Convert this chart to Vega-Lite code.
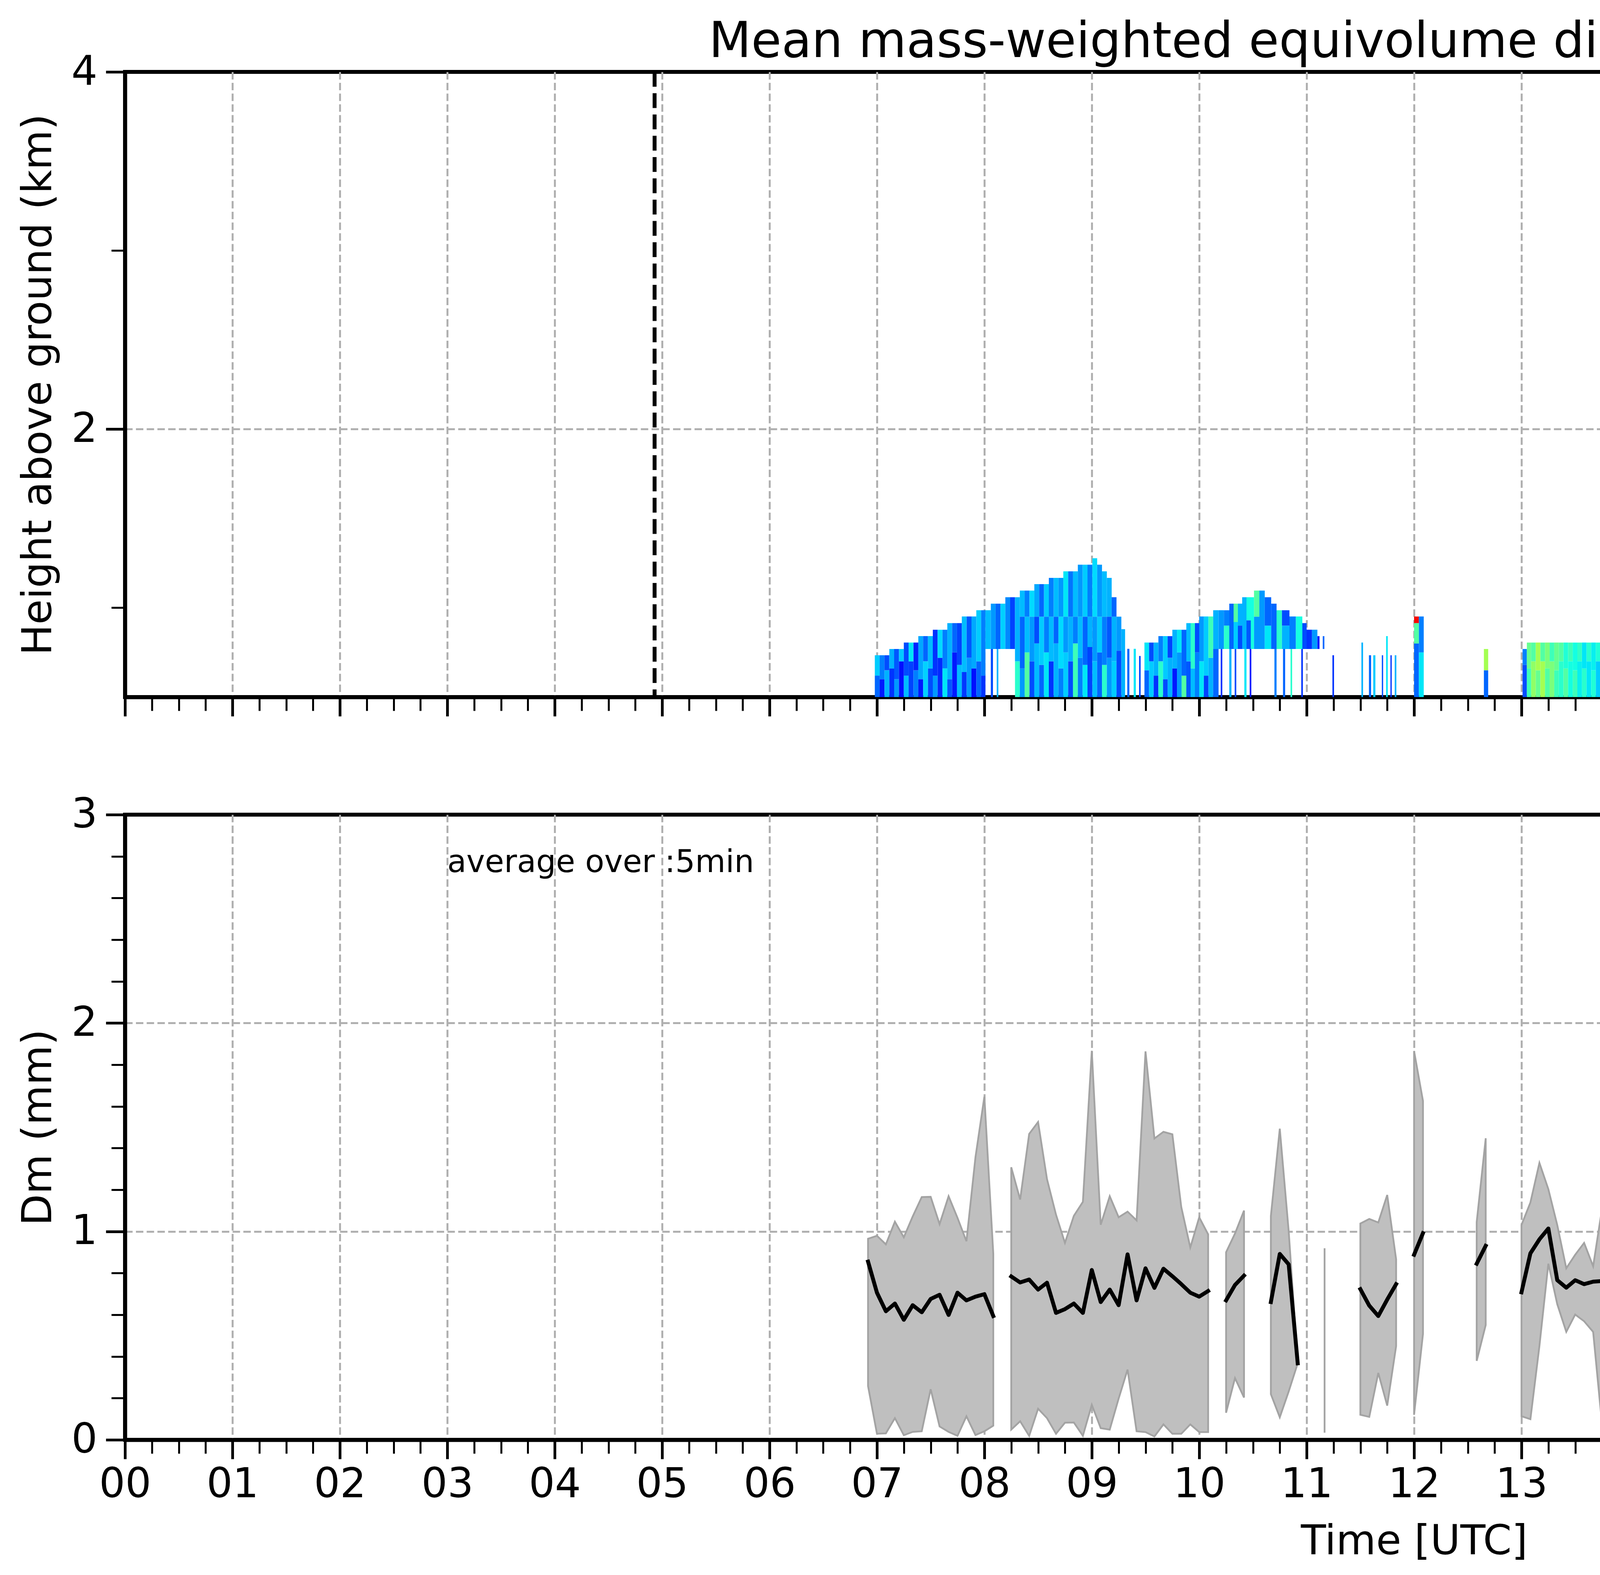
{
"$schema": "https://vega.github.io/schema/vega-lite/v6.json",
"background": "white",
"padding": {"left": 41, "top": 40, "right": 10, "bottom": 10},
"config": {
  "font": "DejaVu Sans",
  "view": {"stroke": "black", "strokeWidth": 10},
  "axis": {"labelFont": "DejaVu Sans", "titleFont": "DejaVu Sans", "labelColor": "black", "titleColor": "black", "titleFontWeight": "normal", "tickColor": "black", "domainColor": "black", "domainWidth": 10, "labelFontSize": 105, "titleFontSize": 105, "zindex": 1, "labelOverlap": false, "labelFlush": false},
  "text": {"font": "DejaVu Sans"}
},
"datasets": {
"heat": [
{"t0":6.98,"t1":7.025,"h0":0.5,"h1":0.62,"dm":0.45},
{"t0":6.98,"t1":7.025,"h0":0.62,"h1":0.734,"dm":0.65},
{"t0":7.025,"t1":7.07,"h0":0.5,"h1":0.6,"dm":0.3},
{"t0":7.025,"t1":7.07,"h0":0.6,"h1":0.734,"dm":0.5},
{"t0":7.07,"t1":7.115,"h0":0.5,"h1":0.65,"dm":0.6},
{"t0":7.07,"t1":7.115,"h0":0.65,"h1":0.734,"dm":0.4},
{"t0":7.115,"t1":7.16,"h0":0.5,"h1":0.66,"dm":0.35},
{"t0":7.115,"t1":7.16,"h0":0.66,"h1":0.769,"dm":0.6},
{"t0":7.16,"t1":7.205,"h0":0.5,"h1":0.6,"dm":0.55},
{"t0":7.16,"t1":7.205,"h0":0.6,"h1":0.769,"dm":0.42},
{"t0":7.205,"t1":7.25,"h0":0.5,"h1":0.7,"dm":0.28},
{"t0":7.205,"t1":7.25,"h0":0.7,"h1":0.769,"dm":0.65},
{"t0":7.25,"t1":7.295,"h0":0.5,"h1":0.62,"dm":0.62},
{"t0":7.25,"t1":7.295,"h0":0.62,"h1":0.805,"dm":0.4},
{"t0":7.295,"t1":7.34,"h0":0.5,"h1":0.7,"dm":0.38},
{"t0":7.295,"t1":7.34,"h0":0.7,"h1":0.805,"dm":0.7},
{"t0":7.34,"t1":7.385,"h0":0.5,"h1":0.65,"dm":0.5},
{"t0":7.34,"t1":7.385,"h0":0.65,"h1":0.805,"dm":0.32},
{"t0":7.385,"t1":7.43,"h0":0.5,"h1":0.6,"dm":0.3},
{"t0":7.385,"t1":7.43,"h0":0.6,"h1":0.841,"dm":0.58},
{"t0":7.43,"t1":7.475,"h0":0.5,"h1":0.7,"dm":0.66},
{"t0":7.43,"t1":7.475,"h0":0.7,"h1":0.841,"dm":0.45},
{"t0":7.475,"t1":7.52,"h0":0.5,"h1":0.66,"dm":0.4},
{"t0":7.475,"t1":7.52,"h0":0.66,"h1":0.841,"dm":0.62},
{"t0":7.52,"t1":7.565,"h0":0.5,"h1":0.62,"dm":0.55},
{"t0":7.52,"t1":7.565,"h0":0.62,"h1":0.877,"dm":0.35},
{"t0":7.565,"t1":7.61,"h0":0.5,"h1":0.72,"dm":0.33},
{"t0":7.565,"t1":7.61,"h0":0.72,"h1":0.877,"dm":0.68},
{"t0":7.61,"t1":7.655,"h0":0.5,"h1":0.66,"dm":0.7},
{"t0":7.61,"t1":7.655,"h0":0.66,"h1":0.877,"dm":0.5},
{"t0":7.655,"t1":7.7,"h0":0.5,"h1":0.6,"dm":0.42},
{"t0":7.655,"t1":7.7,"h0":0.6,"h1":0.914,"dm":0.6},
{"t0":7.7,"t1":7.745,"h0":0.5,"h1":0.75,"dm":0.3},
{"t0":7.7,"t1":7.745,"h0":0.75,"h1":0.914,"dm":0.45},
{"t0":7.745,"t1":7.79,"h0":0.5,"h1":0.68,"dm":0.62},
{"t0":7.745,"t1":7.79,"h0":0.68,"h1":0.914,"dm":0.38},
{"t0":7.79,"t1":7.835,"h0":0.5,"h1":0.64,"dm":0.36},
{"t0":7.79,"t1":7.835,"h0":0.64,"h1":0.951,"dm":0.62},
{"t0":7.835,"t1":7.88,"h0":0.5,"h1":0.72,"dm":0.55},
{"t0":7.835,"t1":7.88,"h0":0.72,"h1":0.951,"dm":0.42},
{"t0":7.88,"t1":7.925,"h0":0.5,"h1":0.66,"dm":0.28},
{"t0":7.88,"t1":7.925,"h0":0.66,"h1":0.951,"dm":0.58},
{"t0":7.925,"t1":7.97,"h0":0.5,"h1":0.7,"dm":0.45},
{"t0":7.925,"t1":7.97,"h0":0.7,"h1":0.986,"dm":0.65},
{"t0":7.97,"t1":8.01,"h0":0.5,"h1":0.62,"dm":0.35},
{"t0":7.97,"t1":8.01,"h0":0.62,"h1":0.986,"dm":0.5},
{"t0":8.01,"t1":8.06,"h0":0.769,"h1":0.986,"dm":0.62},
{"t0":8.06,"t1":8.08,"h0":0.5,"h1":0.769,"dm":0.4},
{"t0":8.06,"t1":8.105,"h0":0.769,"h1":1.023,"dm":0.55},
{"t0":8.115,"t1":8.13,"h0":0.5,"h1":0.769,"dm":0.6},
{"t0":8.105,"t1":8.15,"h0":0.769,"h1":1.023,"dm":0.45},
{"t0":8.15,"t1":8.195,"h0":0.769,"h1":1.023,"dm":0.66},
{"t0":8.195,"t1":8.24,"h0":0.769,"h1":1.059,"dm":0.52},
{"t0":8.24,"t1":8.285,"h0":0.769,"h1":1.059,"dm":0.38},
{"t0":8.285,"t1":8.33,"h0":0.5,"h1":0.7,"dm":0.8},
{"t0":8.285,"t1":8.33,"h0":0.7,"h1":1.059,"dm":0.6},
{"t0":8.33,"t1":8.375,"h0":0.5,"h1":0.66,"dm":0.55},
{"t0":8.33,"t1":8.375,"h0":0.66,"h1":0.95,"dm":0.45},
{"t0":8.33,"t1":8.375,"h0":0.95,"h1":1.096,"dm":0.62},
{"t0":8.375,"t1":8.42,"h0":0.5,"h1":0.75,"dm":0.9},
{"t0":8.375,"t1":8.42,"h0":0.75,"h1":0.95,"dm":0.62},
{"t0":8.375,"t1":8.42,"h0":0.95,"h1":1.096,"dm":0.5},
{"t0":8.42,"t1":8.465,"h0":0.5,"h1":0.7,"dm":0.4},
{"t0":8.42,"t1":8.465,"h0":0.7,"h1":0.95,"dm":0.55},
{"t0":8.42,"t1":8.465,"h0":0.95,"h1":1.096,"dm":0.68},
{"t0":8.465,"t1":8.51,"h0":0.5,"h1":0.8,"dm":0.62},
{"t0":8.465,"t1":8.51,"h0":0.8,"h1":0.95,"dm":0.4},
{"t0":8.465,"t1":8.51,"h0":0.95,"h1":1.132,"dm":0.58},
{"t0":8.51,"t1":8.555,"h0":0.5,"h1":0.68,"dm":0.45},
{"t0":8.51,"t1":8.555,"h0":0.68,"h1":0.95,"dm":0.65},
{"t0":8.51,"t1":8.555,"h0":0.95,"h1":1.132,"dm":0.45},
{"t0":8.555,"t1":8.6,"h0":0.5,"h1":0.75,"dm":0.7},
{"t0":8.555,"t1":8.6,"h0":0.75,"h1":0.95,"dm":0.5},
{"t0":8.555,"t1":8.6,"h0":0.95,"h1":1.132,"dm":0.65},
{"t0":8.6,"t1":8.645,"h0":0.5,"h1":0.7,"dm":0.35},
{"t0":8.6,"t1":8.645,"h0":0.7,"h1":0.95,"dm":0.62},
{"t0":8.6,"t1":8.645,"h0":0.95,"h1":1.167,"dm":0.5},
{"t0":8.645,"t1":8.69,"h0":0.5,"h1":0.8,"dm":0.6},
{"t0":8.645,"t1":8.69,"h0":0.8,"h1":0.95,"dm":0.45},
{"t0":8.645,"t1":8.69,"h0":0.95,"h1":1.167,"dm":0.62},
{"t0":8.69,"t1":8.735,"h0":0.5,"h1":0.66,"dm":0.5},
{"t0":8.69,"t1":8.735,"h0":0.66,"h1":0.95,"dm":0.68},
{"t0":8.69,"t1":8.735,"h0":0.95,"h1":1.167,"dm":0.55},
{"t0":8.735,"t1":8.78,"h0":0.5,"h1":0.75,"dm":0.65},
{"t0":8.735,"t1":8.78,"h0":0.75,"h1":0.95,"dm":0.55},
{"t0":8.735,"t1":8.78,"h0":0.95,"h1":1.204,"dm":0.7},
{"t0":8.78,"t1":8.825,"h0":0.5,"h1":0.7,"dm":0.4},
{"t0":8.78,"t1":8.825,"h0":0.7,"h1":0.95,"dm":0.6},
{"t0":8.78,"t1":8.825,"h0":0.95,"h1":1.204,"dm":0.48},
{"t0":8.825,"t1":8.87,"h0":0.5,"h1":0.8,"dm":0.85},
{"t0":8.825,"t1":8.87,"h0":0.8,"h1":0.95,"dm":0.5},
{"t0":8.825,"t1":8.87,"h0":0.95,"h1":1.204,"dm":0.62},
{"t0":8.87,"t1":8.915,"h0":0.5,"h1":0.72,"dm":0.5},
{"t0":8.87,"t1":8.915,"h0":0.72,"h1":0.95,"dm":0.62},
{"t0":8.87,"t1":8.915,"h0":0.95,"h1":1.241,"dm":0.55},
{"t0":8.915,"t1":8.96,"h0":0.5,"h1":0.68,"dm":0.7},
{"t0":8.915,"t1":8.96,"h0":0.68,"h1":0.95,"dm":0.45},
{"t0":8.915,"t1":8.96,"h0":0.95,"h1":1.241,"dm":0.65},
{"t0":8.96,"t1":9.005,"h0":0.5,"h1":0.78,"dm":0.38},
{"t0":8.96,"t1":9.005,"h0":0.78,"h1":0.95,"dm":0.6},
{"t0":8.96,"t1":9.005,"h0":0.95,"h1":1.241,"dm":0.5},
{"t0":9.005,"t1":9.05,"h0":0.5,"h1":0.7,"dm":0.62},
{"t0":9.005,"t1":9.05,"h0":0.7,"h1":0.95,"dm":0.55},
{"t0":9.005,"t1":9.05,"h0":0.95,"h1":1.277,"dm":0.68},
{"t0":9.05,"t1":9.095,"h0":0.5,"h1":0.75,"dm":0.45},
{"t0":9.05,"t1":9.095,"h0":0.75,"h1":0.95,"dm":0.65},
{"t0":9.05,"t1":9.095,"h0":0.95,"h1":1.241,"dm":0.55},
{"t0":9.095,"t1":9.14,"h0":0.5,"h1":0.68,"dm":0.8},
{"t0":9.095,"t1":9.14,"h0":0.68,"h1":0.95,"dm":0.5},
{"t0":9.095,"t1":9.14,"h0":0.95,"h1":1.204,"dm":0.62},
{"t0":9.14,"t1":9.185,"h0":0.5,"h1":0.72,"dm":0.55},
{"t0":9.14,"t1":9.185,"h0":0.72,"h1":0.95,"dm":0.42},
{"t0":9.14,"t1":9.185,"h0":0.95,"h1":1.167,"dm":0.6},
{"t0":9.185,"t1":9.23,"h0":0.5,"h1":0.7,"dm":0.65},
{"t0":9.185,"t1":9.23,"h0":0.7,"h1":0.95,"dm":0.6},
{"t0":9.185,"t1":9.23,"h0":0.95,"h1":1.059,"dm":0.45},
{"t0":9.23,"t1":9.275,"h0":0.5,"h1":0.76,"dm":0.4},
{"t0":9.23,"t1":9.275,"h0":0.76,"h1":0.95,"dm":0.55},
{"t0":9.275,"t1":9.31,"h0":0.5,"h1":0.88,"dm":0.6},
{"t0":9.33,"t1":9.35,"h0":0.5,"h1":0.77,"dm":0.45},
{"t0":9.39,"t1":9.41,"h0":0.5,"h1":0.77,"dm":0.7},
{"t0":9.44,"t1":9.455,"h0":0.5,"h1":0.73,"dm":0.4},
{"t0":9.49,"t1":9.533,"h0":0.5,"h1":0.65,"dm":0.45},
{"t0":9.49,"t1":9.533,"h0":0.65,"h1":0.805,"dm":0.7},
{"t0":9.533,"t1":9.576,"h0":0.5,"h1":0.7,"dm":0.65},
{"t0":9.533,"t1":9.576,"h0":0.7,"h1":0.805,"dm":0.4},
{"t0":9.576,"t1":9.62,"h0":0.5,"h1":0.62,"dm":0.35},
{"t0":9.576,"t1":9.62,"h0":0.62,"h1":0.805,"dm":0.6},
{"t0":9.62,"t1":9.663,"h0":0.5,"h1":0.7,"dm":0.8},
{"t0":9.62,"t1":9.663,"h0":0.7,"h1":0.841,"dm":0.5},
{"t0":9.663,"t1":9.706,"h0":0.5,"h1":0.6,"dm":0.4},
{"t0":9.663,"t1":9.706,"h0":0.6,"h1":0.841,"dm":0.65},
{"t0":9.706,"t1":9.75,"h0":0.5,"h1":0.72,"dm":0.6},
{"t0":9.706,"t1":9.75,"h0":0.72,"h1":0.841,"dm":0.38},
{"t0":9.75,"t1":9.793,"h0":0.5,"h1":0.66,"dm":0.3},
{"t0":9.75,"t1":9.793,"h0":0.66,"h1":0.877,"dm":0.6},
{"t0":9.793,"t1":9.836,"h0":0.5,"h1":0.75,"dm":0.55},
{"t0":9.793,"t1":9.836,"h0":0.75,"h1":0.877,"dm":0.7},
{"t0":9.836,"t1":9.88,"h0":0.5,"h1":0.62,"dm":0.9},
{"t0":9.836,"t1":9.88,"h0":0.62,"h1":0.877,"dm":0.45},
{"t0":9.88,"t1":9.92,"h0":0.5,"h1":0.7,"dm":0.42},
{"t0":9.88,"t1":9.92,"h0":0.7,"h1":0.914,"dm":0.62},
{"t0":9.92,"t1":9.96,"h0":0.5,"h1":0.66,"dm":0.62},
{"t0":9.92,"t1":9.96,"h0":0.66,"h1":0.914,"dm":0.8},
{"t0":9.96,"t1":10.0,"h0":0.5,"h1":0.75,"dm":0.5},
{"t0":9.96,"t1":10.0,"h0":0.75,"h1":0.914,"dm":0.4},
{"t0":10.0,"t1":10.043,"h0":0.5,"h1":0.7,"dm":0.7},
{"t0":10.0,"t1":10.043,"h0":0.7,"h1":0.951,"dm":0.55},
{"t0":10.043,"t1":10.086,"h0":0.5,"h1":0.62,"dm":0.38},
{"t0":10.043,"t1":10.086,"h0":0.62,"h1":0.951,"dm":0.65},
{"t0":10.086,"t1":10.13,"h0":0.5,"h1":0.72,"dm":0.6},
{"t0":10.086,"t1":10.13,"h0":0.72,"h1":0.951,"dm":0.85},
{"t0":10.13,"t1":10.18,"h0":0.5,"h1":0.769,"dm":0.45},
{"t0":10.13,"t1":10.18,"h0":0.769,"h1":0.986,"dm":0.6},
{"t0":10.18,"t1":10.23,"h0":0.769,"h1":0.986,"dm":0.55},
{"t0":10.23,"t1":10.28,"h0":0.769,"h1":0.9,"dm":0.8},
{"t0":10.23,"t1":10.28,"h0":0.9,"h1":0.986,"dm":0.5},
{"t0":10.28,"t1":10.32,"h0":0.769,"h1":1.023,"dm":0.45},
{"t0":10.32,"t1":10.36,"h0":0.769,"h1":0.92,"dm":0.65},
{"t0":10.32,"t1":10.36,"h0":0.92,"h1":1.023,"dm":0.9},
{"t0":10.36,"t1":10.4,"h0":0.769,"h1":0.9,"dm":0.4},
{"t0":10.36,"t1":10.4,"h0":0.9,"h1":1.023,"dm":0.6},
{"t0":10.4,"t1":10.44,"h0":0.769,"h1":1.059,"dm":0.6},
{"t0":10.44,"t1":10.48,"h0":0.769,"h1":0.93,"dm":0.42},
{"t0":10.44,"t1":10.48,"h0":0.93,"h1":1.059,"dm":0.75},
{"t0":10.48,"t1":10.51,"h0":0.769,"h1":1.059,"dm":0.75},
{"t0":10.51,"t1":10.56,"h0":0.769,"h1":0.95,"dm":0.55},
{"t0":10.51,"t1":10.56,"h0":0.95,"h1":1.096,"dm":0.9},
{"t0":10.56,"t1":10.61,"h0":0.769,"h1":1.096,"dm":0.55},
{"t0":10.61,"t1":10.67,"h0":0.769,"h1":0.9,"dm":0.7},
{"t0":10.61,"t1":10.67,"h0":0.9,"h1":1.059,"dm":0.45},
{"t0":10.67,"t1":10.72,"h0":0.769,"h1":1.023,"dm":0.45},
{"t0":10.72,"t1":10.77,"h0":0.769,"h1":0.986,"dm":0.8},
{"t0":10.77,"t1":10.84,"h0":0.769,"h1":0.9,"dm":0.6},
{"t0":10.77,"t1":10.84,"h0":0.9,"h1":0.986,"dm":0.4},
{"t0":10.84,"t1":10.9,"h0":0.769,"h1":0.951,"dm":0.5},
{"t0":10.9,"t1":10.96,"h0":0.769,"h1":0.951,"dm":0.75},
{"t0":10.96,"t1":11.0,"h0":0.769,"h1":0.914,"dm":0.4},
{"t0":11.0,"t1":11.05,"h0":0.769,"h1":0.877,"dm":0.35},
{"t0":11.05,"t1":11.1,"h0":0.769,"h1":0.877,"dm":0.55},
{"t0":11.1,"t1":11.12,"h0":0.769,"h1":0.841,"dm":0.3},
{"t0":11.15,"t1":11.165,"h0":0.769,"h1":0.841,"dm":0.45},
{"t0":10.2,"t1":10.215,"h0":0.5,"h1":0.769,"dm":0.35},
{"t0":10.28,"t1":10.3,"h0":0.5,"h1":0.769,"dm":0.6},
{"t0":10.33,"t1":10.345,"h0":0.5,"h1":0.769,"dm":0.4},
{"t0":10.42,"t1":10.44,"h0":0.5,"h1":0.769,"dm":0.7},
{"t0":10.47,"t1":10.485,"h0":0.5,"h1":0.769,"dm":0.3},
{"t0":10.7,"t1":10.72,"h0":0.5,"h1":0.769,"dm":0.5},
{"t0":10.78,"t1":10.8,"h0":0.5,"h1":0.769,"dm":0.45},
{"t0":10.85,"t1":10.865,"h0":0.5,"h1":0.769,"dm":0.8},
{"t0":10.95,"t1":10.965,"h0":0.5,"h1":0.769,"dm":0.35},
{"t0":11.24,"t1":11.255,"h0":0.5,"h1":0.734,"dm":0.35},
{"t0":11.51,"t1":11.525,"h0":0.5,"h1":0.805,"dm":0.6},
{"t0":11.58,"t1":11.6,"h0":0.5,"h1":0.734,"dm":0.45},
{"t0":11.62,"t1":11.64,"h0":0.5,"h1":0.734,"dm":0.65},
{"t0":11.7,"t1":11.712,"h0":0.5,"h1":0.734,"dm":0.4},
{"t0":11.74,"t1":11.755,"h0":0.5,"h1":0.841,"dm":0.7},
{"t0":11.78,"t1":11.792,"h0":0.5,"h1":0.734,"dm":0.35},
{"t0":11.82,"t1":11.835,"h0":0.5,"h1":0.734,"dm":0.6},
{"t0":12.0,"t1":12.045,"h0":0.5,"h1":0.8,"dm":0.45},
{"t0":12.0,"t1":12.045,"h0":0.8,"h1":0.914,"dm":0.9},
{"t0":12.0,"t1":12.045,"h0":0.914,"h1":0.951,"dm":1.8},
{"t0":12.045,"t1":12.09,"h0":0.5,"h1":0.75,"dm":0.7},
{"t0":12.045,"t1":12.09,"h0":0.75,"h1":0.951,"dm":0.5},
{"t0":12.65,"t1":12.69,"h0":0.5,"h1":0.65,"dm":0.45},
{"t0":12.65,"t1":12.69,"h0":0.65,"h1":0.769,"dm":1.1},
{"t0":13.01,"t1":13.05,"h0":0.5,"h1":0.68,"dm":0.4},
{"t0":13.01,"t1":13.05,"h0":0.68,"h1":0.769,"dm":0.5},
{"t0":13.05,"t1":13.09,"h0":0.5,"h1":0.66,"dm":0.85},
{"t0":13.05,"t1":13.09,"h0":0.66,"h1":0.805,"dm":0.95},
{"t0":13.09,"t1":13.133,"h0":0.5,"h1":0.7,"dm":1.05},
{"t0":13.09,"t1":13.133,"h0":0.7,"h1":0.805,"dm":0.9},
{"t0":13.133,"t1":13.176,"h0":0.5,"h1":0.65,"dm":0.95},
{"t0":13.133,"t1":13.176,"h0":0.65,"h1":0.805,"dm":1.1},
{"t0":13.176,"t1":13.219,"h0":0.5,"h1":0.7,"dm":1.1},
{"t0":13.176,"t1":13.219,"h0":0.7,"h1":0.805,"dm":0.9},
{"t0":13.219,"t1":13.262,"h0":0.5,"h1":0.66,"dm":0.9},
{"t0":13.219,"t1":13.262,"h0":0.66,"h1":0.805,"dm":1.0},
{"t0":13.262,"t1":13.305,"h0":0.5,"h1":0.7,"dm":1.0},
{"t0":13.262,"t1":13.305,"h0":0.7,"h1":0.805,"dm":0.85},
{"t0":13.305,"t1":13.348,"h0":0.5,"h1":0.65,"dm":0.85},
{"t0":13.305,"t1":13.348,"h0":0.65,"h1":0.805,"dm":0.95},
{"t0":13.348,"t1":13.391,"h0":0.5,"h1":0.7,"dm":0.8},
{"t0":13.348,"t1":13.391,"h0":0.7,"h1":0.805,"dm":0.9},
{"t0":13.391,"t1":13.434,"h0":0.5,"h1":0.66,"dm":0.9},
{"t0":13.391,"t1":13.434,"h0":0.66,"h1":0.805,"dm":0.78},
{"t0":13.434,"t1":13.477,"h0":0.5,"h1":0.7,"dm":0.75},
{"t0":13.434,"t1":13.477,"h0":0.7,"h1":0.805,"dm":0.85},
{"t0":13.477,"t1":13.52,"h0":0.5,"h1":0.65,"dm":0.85},
{"t0":13.477,"t1":13.52,"h0":0.65,"h1":0.805,"dm":0.75},
{"t0":13.52,"t1":13.563,"h0":0.5,"h1":0.7,"dm":0.72},
{"t0":13.52,"t1":13.563,"h0":0.7,"h1":0.805,"dm":0.82},
{"t0":13.563,"t1":13.606,"h0":0.5,"h1":0.66,"dm":0.8},
{"t0":13.563,"t1":13.606,"h0":0.66,"h1":0.805,"dm":0.7},
{"t0":13.606,"t1":13.649,"h0":0.5,"h1":0.7,"dm":0.7},
{"t0":13.606,"t1":13.649,"h0":0.7,"h1":0.805,"dm":0.8},
{"t0":13.649,"t1":13.692,"h0":0.5,"h1":0.65,"dm":0.78},
{"t0":13.649,"t1":13.692,"h0":0.65,"h1":0.805,"dm":0.72},
{"t0":13.692,"t1":13.735,"h0":0.5,"h1":0.7,"dm":0.65},
{"t0":13.692,"t1":13.735,"h0":0.7,"h1":0.805,"dm":0.78},
{"t0":13.735,"t1":13.778,"h0":0.5,"h1":0.66,"dm":0.75},
{"t0":13.735,"t1":13.778,"h0":0.66,"h1":0.805,"dm":0.68},
{"t0":13.778,"t1":13.821,"h0":0.5,"h1":0.7,"dm":0.6},
{"t0":13.778,"t1":13.821,"h0":0.7,"h1":0.805,"dm":0.75},
{"t0":13.821,"t1":13.87,"h0":0.5,"h1":0.66,"dm":0.45},
{"t0":13.821,"t1":13.87,"h0":0.66,"h1":0.805,"dm":0.7},
{"t0":16.82,"t1":16.86,"h0":0.5,"h1":0.62,"dm":0.35},
{"t0":16.82,"t1":16.86,"h0":0.62,"h1":0.737,"dm":0.5},
{"t0":16.86,"t1":16.9,"h0":0.5,"h1":0.66,"dm":0.6},
{"t0":16.86,"t1":16.9,"h0":0.66,"h1":0.737,"dm":0.3},
{"t0":16.9,"t1":16.945,"h0":0.5,"h1":0.7,"dm":0.95},
{"t0":16.9,"t1":16.945,"h0":0.7,"h1":0.81,"dm":0.85},
{"t0":16.945,"t1":16.99,"h0":0.5,"h1":0.65,"dm":1.15},
{"t0":16.945,"t1":16.99,"h0":0.65,"h1":0.81,"dm":1.0},
{"t0":16.99,"t1":17.035,"h0":0.5,"h1":0.7,"dm":0.9},
{"t0":16.99,"t1":17.035,"h0":0.7,"h1":0.81,"dm":1.1},
{"t0":17.035,"t1":17.08,"h0":0.5,"h1":0.66,"dm":1.0},
{"t0":17.035,"t1":17.08,"h0":0.66,"h1":0.81,"dm":0.9},
{"t0":17.08,"t1":17.125,"h0":0.5,"h1":0.7,"dm":0.95},
{"t0":17.08,"t1":17.125,"h0":0.7,"h1":0.81,"dm":1.05},
{"t0":17.125,"t1":17.17,"h0":0.5,"h1":0.65,"dm":0.85},
{"t0":17.125,"t1":17.17,"h0":0.65,"h1":0.81,"dm":0.95},
{"t0":17.17,"t1":17.215,"h0":0.5,"h1":0.7,"dm":0.6},
{"t0":17.17,"t1":17.215,"h0":0.7,"h1":0.81,"dm":0.9},
{"t0":17.215,"t1":17.26,"h0":0.5,"h1":0.66,"dm":0.9},
{"t0":17.215,"t1":17.26,"h0":0.66,"h1":0.81,"dm":0.75},
{"t0":17.26,"t1":17.305,"h0":0.5,"h1":0.7,"dm":0.45},
{"t0":17.26,"t1":17.305,"h0":0.7,"h1":0.81,"dm":0.85},
{"t0":17.305,"t1":17.35,"h0":0.5,"h1":0.66,"dm":0.75},
{"t0":17.305,"t1":17.35,"h0":0.66,"h1":0.81,"dm":0.6},
{"t0":17.35,"t1":17.395,"h0":0.5,"h1":0.7,"dm":0.4},
{"t0":17.35,"t1":17.395,"h0":0.7,"h1":0.845,"dm":0.6},
{"t0":17.395,"t1":17.44,"h0":0.5,"h1":0.66,"dm":0.65},
{"t0":17.395,"t1":17.44,"h0":0.66,"h1":0.845,"dm":0.35},
{"t0":17.44,"t1":17.485,"h0":0.5,"h1":0.7,"dm":0.3},
{"t0":17.44,"t1":17.485,"h0":0.7,"h1":0.845,"dm":0.7},
{"t0":17.485,"t1":17.53,"h0":0.5,"h1":0.66,"dm":0.6},
{"t0":17.485,"t1":17.53,"h0":0.66,"h1":0.845,"dm":0.45},
{"t0":17.53,"t1":17.575,"h0":0.5,"h1":0.7,"dm":0.45},
{"t0":17.53,"t1":17.575,"h0":0.7,"h1":0.845,"dm":0.65},
{"t0":17.575,"t1":17.62,"h0":0.5,"h1":0.66,"dm":0.7},
{"t0":17.575,"t1":17.62,"h0":0.66,"h1":0.845,"dm":0.4},
{"t0":17.62,"t1":17.66,"h0":0.5,"h1":0.7,"dm":0.38},
{"t0":17.62,"t1":17.66,"h0":0.7,"h1":0.845,"dm":0.62},
{"t0":17.66,"t1":17.7,"h0":0.5,"h1":0.62,"dm":0.55},
{"t0":17.66,"t1":17.7,"h0":0.62,"h1":0.845,"dm":0.5},
{"t0":17.72,"t1":17.735,"h0":0.5,"h1":0.63,"dm":0.4},
{"t0":17.755,"t1":17.77,"h0":0.5,"h1":0.6,"dm":0.6},
{"t0":17.77,"t1":17.815,"h0":0.5,"h1":0.7,"dm":0.6},
{"t0":17.77,"t1":17.815,"h0":0.7,"h1":0.882,"dm":0.45},
{"t0":17.815,"t1":17.86,"h0":0.5,"h1":0.66,"dm":0.4},
{"t0":17.815,"t1":17.86,"h0":0.66,"h1":0.882,"dm":0.65},
{"t0":17.86,"t1":17.905,"h0":0.5,"h1":0.72,"dm":0.65},
{"t0":17.86,"t1":17.905,"h0":0.72,"h1":0.882,"dm":0.5},
{"t0":17.905,"t1":17.95,"h0":0.5,"h1":0.66,"dm":0.5},
{"t0":17.905,"t1":17.95,"h0":0.66,"h1":0.882,"dm":0.62},
{"t0":17.95,"t1":17.99,"h0":0.5,"h1":0.7,"dm":0.62},
{"t0":17.95,"t1":17.99,"h0":0.7,"h1":0.882,"dm":0.4},
{"t0":18.01,"t1":18.02,"h0":0.5,"h1":0.85,"dm":0.6},
{"t0":18.05,"t1":18.095,"h0":0.5,"h1":0.7,"dm":0.45},
{"t0":18.05,"t1":18.095,"h0":0.7,"h1":0.882,"dm":0.6},
{"t0":18.095,"t1":18.14,"h0":0.5,"h1":0.66,"dm":0.65},
{"t0":18.095,"t1":18.14,"h0":0.66,"h1":0.882,"dm":0.35},
{"t0":18.14,"t1":18.185,"h0":0.5,"h1":0.7,"dm":0.4},
{"t0":18.14,"t1":18.185,"h0":0.7,"h1":0.882,"dm":0.6},
{"t0":18.185,"t1":18.23,"h0":0.5,"h1":0.66,"dm":0.6},
{"t0":18.185,"t1":18.23,"h0":0.66,"h1":0.882,"dm":0.45},
{"t0":18.23,"t1":18.27,"h0":0.5,"h1":0.7,"dm":0.5},
{"t0":18.23,"t1":18.27,"h0":0.7,"h1":0.882,"dm":0.65},
{"t0":18.27,"t1":18.29,"h0":0.7,"h1":0.882,"dm":0.55},
{"t0":18.81,"t1":18.818,"h0":0.5,"h1":0.58,"dm":0.5},
{"t0":19.16,"t1":19.2,"h0":0.5,"h1":0.7,"dm":0.5},
{"t0":19.16,"t1":19.2,"h0":0.7,"h1":0.81,"dm":0.85},
{"t0":19.2,"t1":19.245,"h0":0.5,"h1":0.66,"dm":0.85},
{"t0":19.2,"t1":19.245,"h0":0.66,"h1":0.81,"dm":0.95},
{"t0":19.245,"t1":19.29,"h0":0.5,"h1":0.7,"dm":0.75},
{"t0":19.245,"t1":19.29,"h0":0.7,"h1":0.81,"dm":0.9},
{"t0":19.29,"t1":19.335,"h0":0.5,"h1":0.66,"dm":0.9},
{"t0":19.29,"t1":19.335,"h0":0.66,"h1":0.81,"dm":0.8},
{"t0":19.335,"t1":19.38,"h0":0.5,"h1":0.7,"dm":0.7},
{"t0":19.335,"t1":19.38,"h0":0.7,"h1":0.81,"dm":0.88},
{"t0":19.38,"t1":19.43,"h0":0.5,"h1":0.66,"dm":0.8},
{"t0":19.38,"t1":19.43,"h0":0.66,"h1":0.81,"dm":0.7},
{"t0":19.43,"t1":19.475,"h0":0.5,"h1":0.66,"dm":0.75},
{"t0":19.43,"t1":19.475,"h0":0.66,"h1":0.773,"dm":0.82},
{"t0":19.475,"t1":19.52,"h0":0.5,"h1":0.7,"dm":0.65},
{"t0":19.475,"t1":19.52,"h0":0.7,"h1":0.773,"dm":0.75},
{"t0":19.52,"t1":19.565,"h0":0.5,"h1":0.66,"dm":0.8},
{"t0":19.52,"t1":19.565,"h0":0.66,"h1":0.773,"dm":0.7},
{"t0":19.565,"t1":19.61,"h0":0.5,"h1":0.7,"dm":0.6},
{"t0":19.565,"t1":19.61,"h0":0.7,"h1":0.773,"dm":0.78},
{"t0":19.61,"t1":19.655,"h0":0.5,"h1":0.66,"dm":0.45},
{"t0":19.61,"t1":19.655,"h0":0.66,"h1":0.773,"dm":0.65},
{"t0":19.655,"t1":19.7,"h0":0.5,"h1":0.7,"dm":0.7},
{"t0":19.655,"t1":19.7,"h0":0.7,"h1":0.773,"dm":0.4},
{"t0":19.7,"t1":19.74,"h0":0.5,"h1":0.66,"dm":0.35},
{"t0":19.7,"t1":19.74,"h0":0.66,"h1":0.737,"dm":0.6},
{"t0":19.74,"t1":19.77,"h0":0.5,"h1":0.7,"dm":0.55},
{"t0":19.74,"t1":19.77,"h0":0.7,"h1":0.737,"dm":0.45},
{"t0":19.78,"t1":19.79,"h0":0.66,"h1":0.773,"dm":0.5}
],
"dm": [
{"seg":1,"t":6.917,"dm":0.855,"hi":0.965,"lo":0.258},
{"seg":1,"t":7.0,"dm":0.706,"hi":0.979,"lo":0.029},
{"seg":1,"t":7.083,"dm":0.617,"hi":0.938,"lo":0.031},
{"seg":1,"t":7.167,"dm":0.654,"hi":1.047,"lo":0.104},
{"seg":1,"t":7.25,"dm":0.576,"hi":0.972,"lo":0.022},
{"seg":1,"t":7.333,"dm":0.646,"hi":1.072,"lo":0.038},
{"seg":1,"t":7.417,"dm":0.612,"hi":1.165,"lo":0.041},
{"seg":1,"t":7.5,"dm":0.676,"hi":1.166,"lo":0.243},
{"seg":1,"t":7.583,"dm":0.696,"hi":1.035,"lo":0.064},
{"seg":1,"t":7.667,"dm":0.599,"hi":1.169,"lo":0.038},
{"seg":1,"t":7.75,"dm":0.706,"hi":1.065,"lo":0.019},
{"seg":1,"t":7.833,"dm":0.669,"hi":0.953,"lo":0.113},
{"seg":1,"t":7.917,"dm":0.687,"hi":1.356,"lo":0.023},
{"seg":1,"t":8.0,"dm":0.699,"hi":1.647,"lo":0.041},
{"seg":1,"t":8.083,"dm":0.594,"hi":0.893,"lo":0.068},
{"seg":2,"t":8.25,"dm":0.784,"hi":1.308,"lo":0.049},
{"seg":2,"t":8.333,"dm":0.755,"hi":1.153,"lo":0.089},
{"seg":2,"t":8.417,"dm":0.769,"hi":1.468,"lo":0.019},
{"seg":2,"t":8.5,"dm":0.721,"hi":1.525,"lo":0.149},
{"seg":2,"t":8.583,"dm":0.754,"hi":1.251,"lo":0.104},
{"seg":2,"t":8.667,"dm":0.609,"hi":1.08,"lo":0.029},
{"seg":2,"t":8.75,"dm":0.627,"hi":0.945,"lo":0.082},
{"seg":2,"t":8.833,"dm":0.654,"hi":1.075,"lo":0.083},
{"seg":2,"t":8.917,"dm":0.609,"hi":1.142,"lo":0.019},
{"seg":2,"t":9.0,"dm":0.815,"hi":1.867,"lo":0.168},
{"seg":2,"t":9.083,"dm":0.661,"hi":1.032,"lo":0.056},
{"seg":2,"t":9.167,"dm":0.721,"hi":1.169,"lo":0.049},
{"seg":2,"t":9.25,"dm":0.646,"hi":1.068,"lo":0.198},
{"seg":2,"t":9.333,"dm":0.89,"hi":1.095,"lo":0.337},
{"seg":2,"t":9.417,"dm":0.669,"hi":1.053,"lo":0.041},
{"seg":2,"t":9.5,"dm":0.823,"hi":1.864,"lo":0.037},
{"seg":2,"t":9.583,"dm":0.729,"hi":1.446,"lo":0.016},
{"seg":2,"t":9.667,"dm":0.821,"hi":1.478,"lo":0.074},
{"seg":2,"t":9.75,"dm":0.785,"hi":1.466,"lo":0.029},
{"seg":2,"t":9.833,"dm":0.747,"hi":1.117,"lo":0.029},
{"seg":2,"t":9.917,"dm":0.706,"hi":0.923,"lo":0.074},
{"seg":2,"t":10.0,"dm":0.687,"hi":1.068,"lo":0.037},
{"seg":2,"t":10.083,"dm":0.714,"hi":0.986,"lo":0.037},
{"seg":3,"t":10.25,"dm":0.669,"hi":0.9,"lo":0.13},
{"seg":3,"t":10.333,"dm":0.743,"hi":0.99,"lo":0.296},
{"seg":3,"t":10.417,"dm":0.788,"hi":1.1,"lo":0.203},
{"seg":4,"t":10.667,"dm":0.661,"hi":1.074,"lo":0.219},
{"seg":4,"t":10.75,"dm":0.892,"hi":1.493,"lo":0.108},
{"seg":4,"t":10.833,"dm":0.842,"hi":1.0,"lo":0.232},
{"seg":4,"t":10.917,"dm":0.367,"hi":0.37,"lo":0.367},
{"seg":5,"t":11.167,"dm":null,"hi":0.919,"lo":0.034},
{"seg":6,"t":11.5,"dm":0.723,"hi":1.038,"lo":0.12},
{"seg":6,"t":11.583,"dm":0.644,"hi":1.06,"lo":0.11},
{"seg":6,"t":11.667,"dm":0.594,"hi":1.043,"lo":0.321},
{"seg":6,"t":11.75,"dm":0.673,"hi":1.175,"lo":0.164},
{"seg":6,"t":11.833,"dm":0.747,"hi":0.866,"lo":0.45},
{"seg":7,"t":12.0,"dm":0.888,"hi":1.866,"lo":0.12},
{"seg":7,"t":12.083,"dm":0.992,"hi":1.626,"lo":0.508},
{"seg":8,"t":12.583,"dm":0.845,"hi":1.045,"lo":0.379},
{"seg":8,"t":12.667,"dm":0.931,"hi":1.447,"lo":0.551},
{"seg":9,"t":13.0,"dm":0.708,"hi":1.031,"lo":0.113},
{"seg":9,"t":13.083,"dm":0.895,"hi":1.139,"lo":0.099},
{"seg":9,"t":13.167,"dm":0.962,"hi":1.329,"lo":0.45},
{"seg":9,"t":13.25,"dm":1.014,"hi":1.203,"lo":0.845},
{"seg":9,"t":13.333,"dm":0.766,"hi":1.031,"lo":0.651},
{"seg":9,"t":13.417,"dm":0.73,"hi":0.823,"lo":0.518},
{"seg":9,"t":13.5,"dm":0.766,"hi":0.888,"lo":0.601},
{"seg":9,"t":13.583,"dm":0.747,"hi":0.945,"lo":0.569},
{"seg":9,"t":13.667,"dm":0.759,"hi":0.833,"lo":0.518},
{"seg":9,"t":13.75,"dm":0.762,"hi":1.11,"lo":0.073},
{"seg":9,"t":13.833,"dm":0.701,"hi":1.117,"lo":0.407},
{"seg":10,"t":16.75,"dm":0.691,"hi":1.011,"lo":0.104},
{"seg":10,"t":16.833,"dm":0.771,"hi":1.156,"lo":0.063},
{"seg":10,"t":16.917,"dm":1.139,"hi":1.904,"lo":0.187},
{"seg":10,"t":17.0,"dm":0.936,"hi":1.114,"lo":0.317},
{"seg":10,"t":17.083,"dm":0.945,"hi":1.167,"lo":0.366},
{"seg":10,"t":17.167,"dm":0.956,"hi":1.444,"lo":0.018},
{"seg":10,"t":17.25,"dm":0.863,"hi":1.616,"lo":0.177},
{"seg":10,"t":17.333,"dm":0.874,"hi":1.898,"lo":0.184},
{"seg":10,"t":17.417,"dm":0.798,"hi":1.276,"lo":0.142},
{"seg":10,"t":17.5,"dm":0.736,"hi":1.117,"lo":0.063},
{"seg":10,"t":17.583,"dm":0.705,"hi":1.79,"lo":0.061},
{"seg":10,"t":17.667,"dm":0.61,"hi":1.011,"lo":0.427},
{"seg":10,"t":17.75,"dm":0.596,"hi":0.963,"lo":0.139},
{"seg":10,"t":17.833,"dm":0.677,"hi":0.897,"lo":0.111},
{"seg":10,"t":17.917,"dm":0.643,"hi":0.897,"lo":0.262},
{"seg":10,"t":18.0,"dm":0.688,"hi":1.035,"lo":0.293},
{"seg":10,"t":18.083,"dm":0.672,"hi":1.112,"lo":0.132},
{"seg":10,"t":18.167,"dm":0.713,"hi":1.039,"lo":0.104},
{"seg":10,"t":18.25,"dm":0.705,"hi":0.833,"lo":0.592},
{"seg":11,"t":19.083,"dm":0.528,"hi":0.894,"lo":0.05},
{"seg":11,"t":19.167,"dm":0.85,"hi":1.318,"lo":0.045},
{"seg":11,"t":19.25,"dm":0.804,"hi":1.396,"lo":0.379},
{"seg":11,"t":19.333,"dm":0.871,"hi":1.211,"lo":0.535},
{"seg":11,"t":19.417,"dm":0.75,"hi":1.173,"lo":0.091},
{"seg":11,"t":19.5,"dm":0.763,"hi":0.97,"lo":0.121},
{"seg":11,"t":19.583,"dm":0.631,"hi":1.16,"lo":0.084},
{"seg":11,"t":19.667,"dm":0.551,"hi":0.878,"lo":0.146},
{"seg":11,"t":19.75,"dm":0.677,"hi":0.856,"lo":0.297}
],
"sun": [{"t":4.93},{"t":17.685}],
"note": [{"x":3,"y":2.77,"label":"average over :5min"}],
"cbar": [{"a":0,"b":1,"lo":0,"hi":2}]
},
"spacing": 186,
"vconcat": [
{
 "spacing": 75,
 "bounds": "flush",
 "hconcat": [
 {
  "width": 6600,
  "height": 1600,
  "title": {"text": "Mean mass-weighted equivolume diameter on 20260330", "fontSize": 126, "font": "DejaVu Sans", "fontWeight": "normal", "color": "black", "anchor": "middle", "frame": "group", "baseline": "alphabetic", "offset": -140},
  "layer": [
   {
    "data": {"name": "heat"},
    "mark": {"type": "rect", "clip": true},
    "encoding": {
     "x": {"field": "t0", "type": "quantitative", "title": null, "scale": {"domain": [0, 24], "nice": false, "zero": false},
       "axis": {"values": [0,0.25,0.5,0.75,1,1.25,1.5,1.75,2,2.25,2.5,2.75,3,3.25,3.5,3.75,4,4.25,4.5,4.75,5,5.25,5.5,5.75,6,6.25,6.5,6.75,7,7.25,7.5,7.75,8,8.25,8.5,8.75,9,9.25,9.5,9.75,10,10.25,10.5,10.75,11,11.25,11.5,11.75,12,12.25,12.5,12.75,13,13.25,13.5,13.75,14,14.25,14.5,14.75,15,15.25,15.5,15.75,16,16.25,16.5,16.75,17,17.25,17.5,17.75,18,18.25,18.5,18.75,19,19.25,19.5,19.75,20,20.25,20.5,20.75,21,21.25,21.5,21.75,22,22.25,22.5,22.75,23,23.25,23.5,23.75,24],
         "labels": false,
         "tickSize": {"condition": {"test": "datum.value % 1 === 0 && datum.value < 24", "value": 49}, "value": 35},
         "tickWidth": {"condition": {"test": "datum.value % 1 === 0 && datum.value < 24", "value": 7}, "value": 5},
         "grid": true, "gridColor": "#b0b0b0", "gridWidth": 5, "gridDash": [19, 8.5],
         "gridOpacity": {"condition": {"test": "datum.value % 1 === 0 && datum.value > 0 && datum.value < 24", "value": 1}, "value": 0},
         "domain": true}},
     "x2": {"field": "t1"},
     "y": {"field": "h0", "type": "quantitative", "title": "Height above ground (km)", "scale": {"domain": [0.5, 4], "nice": false, "zero": false},
       "axis": {"values": [1, 2, 3, 4],
         "labelExpr": "datum.value % 2 === 0 ? '' + datum.value : ''",
         "labelPadding": 22, "titlePadding": 30,
         "tickSize": {"condition": {"test": "datum.value % 2 === 0", "value": 49}, "value": 35},
         "tickWidth": {"condition": {"test": "datum.value % 2 === 0", "value": 7}, "value": 5},
         "grid": true, "gridColor": "#b0b0b0", "gridWidth": 5, "gridDash": [19, 8.5],
         "gridOpacity": {"condition": {"test": "datum.value === 2", "value": 1}, "value": 0},
         "domain": true}},
     "y2": {"field": "h1"},
     "color": {"field": "dm", "type": "quantitative", "legend": null,
       "scale": {"domain": [0, 0.22, 0.25, 0.68, 0.7, 0.75, 1.0, 1.28, 1.3, 1.32, 1.78, 1.82, 2.0],
                 "range": ["#000080", "#0000ff", "#0000ff", "#00dbff", "#00e6f7", "#14ffe2", "#7bff7b", "#eeff08", "#f7f500", "#ffec00", "#ff1300", "#e80000", "#800000"],
                 "interpolate": "rgb", "clamp": true}}
    }
   },
   {
    "data": {"name": "sun"},
    "mark": {"type": "rule", "color": "black", "strokeWidth": 10, "strokeDash": [38, 16.5]},
    "encoding": {"x": {"field": "t", "type": "quantitative", "title": null}}
   }
  ]
 },
 {
  "width": 111,
  "height": 1600,
  "view": {"stroke": null},
  "data": {"name": "cbar"},
  "mark": {"type": "rect", "stroke": "black", "strokeWidth": 5,
    "fill": {"gradient": "linear", "x1": 0, "y1": 1, "x2": 0, "y2": 0,
      "stops": [
        {"offset": 0, "color": "#000080"},
        {"offset": 0.11, "color": "#0000ff"},
        {"offset": 0.125, "color": "#0000ff"},
        {"offset": 0.34, "color": "#00dbff"},
        {"offset": 0.35, "color": "#00e6f7"},
        {"offset": 0.375, "color": "#14ffe2"},
        {"offset": 0.5, "color": "#7bff7b"},
        {"offset": 0.64, "color": "#eeff08"},
        {"offset": 0.65, "color": "#f7f500"},
        {"offset": 0.66, "color": "#ffec00"},
        {"offset": 0.89, "color": "#ff1300"},
        {"offset": 0.91, "color": "#e80000"},
        {"offset": 1, "color": "#800000"}
      ]}},
  "encoding": {
    "x": {"field": "a", "type": "quantitative", "scale": {"domain": [0, 1], "nice": false, "zero": false}, "axis": null},
    "x2": {"field": "b"},
    "y": {"field": "lo", "type": "quantitative", "title": "Dm (mm)", "scale": {"domain": [0, 2], "nice": false},
      "axis": {"orient": "right", "values": [0, 0.4, 0.8, 1.2, 1.6, 2], "format": ".1f", "tickSize": 19, "tickWidth": 4.5, "labelFontSize": 80, "labelPadding": 28, "domain": false, "grid": false, "titleFontSize": 84, "titleAngle": 270, "titleBaseline": "top", "titlePadding": 28}},
    "y2": {"field": "hi"}
  }
 }
 ]
},
{
 "width": 6600,
 "height": 1600,
 "layer": [
  {
   "data": {"name": "dm"},
   "mark": {"type": "area", "fill": "#bfbfbf", "stroke": "#a3a3a3", "strokeWidth": 4.5, "clip": true},
   "encoding": {
    "x": {"field": "t", "type": "quantitative", "title": "Time [UTC]", "scale": {"domain": [0, 24], "nice": false, "zero": false},
      "axis": {"values": [0,0.25,0.5,0.75,1,1.25,1.5,1.75,2,2.25,2.5,2.75,3,3.25,3.5,3.75,4,4.25,4.5,4.75,5,5.25,5.5,5.75,6,6.25,6.5,6.75,7,7.25,7.5,7.75,8,8.25,8.5,8.75,9,9.25,9.5,9.75,10,10.25,10.5,10.75,11,11.25,11.5,11.75,12,12.25,12.5,12.75,13,13.25,13.5,13.75,14,14.25,14.5,14.75,15,15.25,15.5,15.75,16,16.25,16.5,16.75,17,17.25,17.5,17.75,18,18.25,18.5,18.75,19,19.25,19.5,19.75,20,20.25,20.5,20.75,21,21.25,21.5,21.75,22,22.25,22.5,22.75,23,23.25,23.5,23.75,24],
        "labelExpr": "datum.value % 1 === 0 && datum.value < 24 ? (datum.value < 10 ? '0' + datum.value : '' + datum.value) : ''",
        "labelPadding": 14, "titlePadding": 42,
        "tickSize": {"condition": {"test": "datum.value % 1 === 0 && datum.value < 24", "value": 49}, "value": 35},
        "tickWidth": {"condition": {"test": "datum.value % 1 === 0 && datum.value < 24", "value": 7}, "value": 5},
        "grid": true, "gridColor": "#b0b0b0", "gridWidth": 5, "gridDash": [19, 8.5],
        "gridOpacity": {"condition": {"test": "datum.value % 1 === 0 && datum.value > 0 && datum.value < 24", "value": 1}, "value": 0},
        "domain": true}},
    "y": {"field": "hi", "type": "quantitative", "title": "Dm (mm)", "scale": {"domain": [0, 3], "nice": false, "zero": false},
      "axis": {"values": [0,0.2,0.4,0.6,0.8,1,1.2,1.4,1.6,1.8,2,2.2,2.4,2.6,2.8,3],
        "labelExpr": "datum.value % 1 === 0 ? '' + datum.value : ''",
        "labelPadding": 22, "titlePadding": 30,
        "tickSize": {"condition": {"test": "datum.value % 1 === 0", "value": 49}, "value": 35},
        "tickWidth": {"condition": {"test": "datum.value % 1 === 0", "value": 7}, "value": 5},
        "grid": true, "gridColor": "#b0b0b0", "gridWidth": 5, "gridDash": [19, 8.5],
        "gridOpacity": {"condition": {"test": "datum.value === 1 || datum.value === 2", "value": 1}, "value": 0},
        "domain": true}},
    "y2": {"field": "lo"},
    "detail": {"field": "seg", "type": "nominal"}
   }
  },
  {
   "data": {"name": "dm"},
   "mark": {"type": "line", "color": "black", "strokeWidth": 10, "strokeJoin": "round", "strokeCap": "square", "clip": true},
   "encoding": {
    "x": {"field": "t", "type": "quantitative", "title": "Time [UTC]"},
    "y": {"field": "dm", "type": "quantitative", "title": "Dm (mm)"},
    "detail": {"field": "seg", "type": "nominal"}
   }
  },
  {
   "data": {"name": "note"},
   "mark": {"type": "text", "align": "left", "baseline": "middle", "fontSize": 80, "font": "DejaVu Sans", "color": "black"},
   "encoding": {
    "x": {"field": "x", "type": "quantitative", "title": "Time [UTC]"},
    "y": {"field": "y", "type": "quantitative", "title": "Dm (mm)"},
    "text": {"field": "label"}
   }
  }
 ]
}
]
}
